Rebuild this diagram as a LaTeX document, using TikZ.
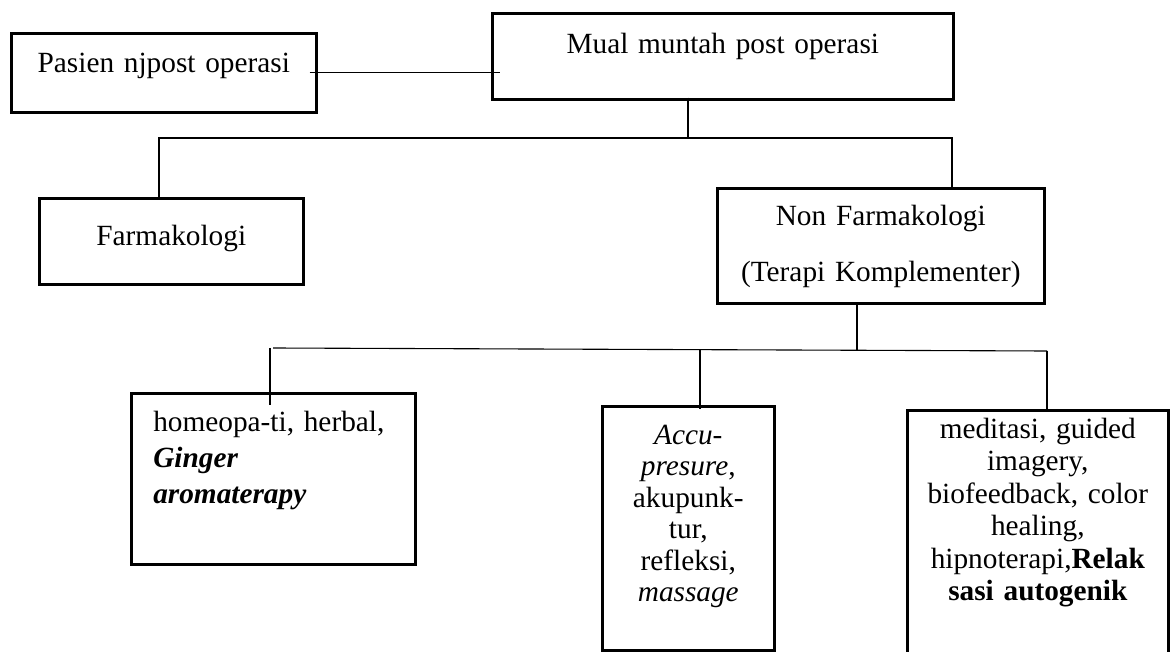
\documentclass[tikz,border=0pt]{standalone}
\usepackage{fontspec}
\setmainfont{Liberation Serif}

\begin{document}
\begin{tikzpicture}[x=1pt, y=-1pt,
    box/.style={draw, line width=2.6pt, inner sep=0pt, anchor=north west, align=center,
        font=\fontsize{29.3}{32.5}\selectfont},
    link/.style={line width=1.1pt}]
    \useasboundingbox (0,0) rectangle (1173,652);
    \clip (0,0) rectangle (1173,652);
    \node[box, text width=305pt, text height=39pt, text depth=40pt] (pasien) at (10,32) {Pasien njpost operasi};
    \node[box, text width=461pt, text height=40pt, text depth=46pt] (mual) at (491,12) {Mual muntah post operasi};
    \node[box, text width=264pt, text height=47pt, text depth=39pt] (farmako) at (38,197) {Farmakologi};
    \node[box, text width=327pt, text height=37pt, text depth=78pt] (nf) at (716,187)
        {Non Farmakologi\\[23.5pt](Terapi Komplementer)};
    \node[box, align=left, inner xsep=22pt, text width=240pt, text height=38pt, text depth=133pt,
        font=\fontsize{29.3}{36}\selectfont] (homeo) at (130,392)
        {homeopa-ti, herbal,\\\textbf{\textit{Ginger}}\\\textbf{\textit{aromaterapy}}};
    \node[box, text width=172pt, text height=38pt, text depth=206pt,
        font=\fontsize{29.3}{31.5}\selectfont] (accu) at (601,405)
        {\textit{Accu-}\\\textit{presure},\\akupunk-\\tur,\\refleksi,\\\textit{massage}};
    \node[box, text width=261pt, text height=28pt, text depth=300pt] (rbox) at (906,409)
        {meditasi, guided\\imagery,\\biofeedback, color\\healing,\\hipnoterapi,\textbf{Relak}\\\textbf{sasi autogenik}};

    \coordinate (busmid) at (688,138);
    \coordinate (busleft) at (159,138);
    \coordinate (busright) at (952,138);
    \coordinate (subtop) at (857,350);
    \coordinate (subleft) at (270,348);
    \coordinate (submid) at (700,350);
    \coordinate (subright) at (1047,351);

    \draw[link] ([xshift=-8pt]pasien.base east) -- ([xshift=9pt]mual.west |- pasien.base east);
    \draw[link] ([yshift=3pt]mual.south -| busmid) -- (busmid);
    \draw[link] (farmako.north -| busleft) -- (busleft) -- (busright) -- (nf.north -| busright);
    \draw[link] (nf.south -| subtop) -- (subtop);
    \draw[link] ([xshift=3pt]subleft) -- (subright);
    \draw[link] (subleft) -- ([yshift=-13pt]homeo.north -| subleft);
    \draw[link] (submid) -- ([yshift=-4pt]accu.north -| submid);
    \draw[link] (subright) -- (rbox.north -| subright);
\end{tikzpicture}
\end{document}
